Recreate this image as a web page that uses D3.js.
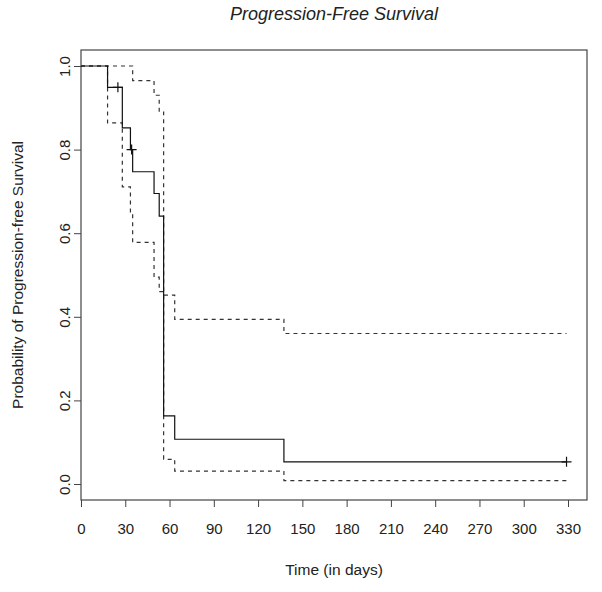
<!DOCTYPE html>
<html><head><meta charset="utf-8">
<script src="https://cdn.jsdelivr.net/npm/d3@7"></script>
<style>
body{margin:0;background:#fff;}
text{font-family:"Liberation Sans",Arial,Helvetica,sans-serif;fill:#222;}
</style></head>
<body><svg id="c" width="602" height="592"></svg>
<script>
// Kaplan-Meier estimate (step points)
const times    = [0, 18, 28, 33.5, 35, 49.5, 53, 56, 63.5, 137.5, 329];
const survival = [1, 0.949, 0.852, 0.80, 0.747, 0.695, 0.641, 0.163, 0.107, 0.053, 0.053];
const upperCI  = [1, 1, 1, 1, 0.965, 0.93, 0.89, 0.452, 0.394, 0.36, 0.36];
const lowerCI  = [1, 0.864, 0.711, 0.648, 0.578, 0.495, 0.46, 0.059, 0.031, 0.008, 0.008];
const censorTimes  = [25, 34.3, 329];
const censorValues = [0.949, 0.80, 0.053];
const xTicks = [0, 30, 60, 90, 120, 150, 180, 210, 240, 270, 300, 330];
const yTicks = [0, 0.2, 0.4, 0.6, 0.8, 1.0];

const svg = d3.select("#c");
const box = {left: 81, right: 587, top: 50, bottom: 500};
const x = d3.scaleLinear().domain([0, 330]).range([81, 568]);
const y = d3.scaleLinear().domain([0, 1]).range([484, 66]);

// box
svg.append("rect").attr("x", box.left).attr("y", box.top)
  .attr("width", box.right - box.left).attr("height", box.bottom - box.top)
  .attr("fill", "none").attr("stroke", "#444").attr("stroke-width", 1.2);

// x axis
const gx = svg.append("g").attr("transform", `translate(0,${box.bottom})`)
  .call(d3.axisBottom(x).tickValues(xTicks).tickSize(7).tickPadding(16).tickFormat(d3.format("d")));
gx.select(".domain").remove();
gx.selectAll("line").attr("stroke", "#444");
gx.selectAll("text").attr("font-size", 15).style("fill", "#222");

// y axis
const gy = svg.append("g").attr("transform", `translate(${box.left},0)`)
  .call(d3.axisLeft(y).tickValues(yTicks).tickSize(7).tickFormat(d3.format(".1f")));
gy.select(".domain").remove();
gy.selectAll("line").attr("stroke", "#444");
gy.selectAll("text").remove();
gy.selectAll(".tick").append("text")
  .attr("transform", "translate(-11,0) rotate(-90)")
  .attr("text-anchor", "middle").attr("dy", "0")
  .attr("font-size", 15).style("fill", "#222")
  .text(d => d3.format(".1f")(d));

// lines
const line = d3.line().curve(d3.curveStepAfter).x(d => x(d[0])).y(d => y(d[1]));
const mk = arr => times.map((t, i) => [t, arr[i]]);
svg.append("path").datum(mk(upperCI)).attr("d", line)
  .attr("fill", "none").attr("stroke", "#333").attr("stroke-width", 1.2).attr("stroke-dasharray", "4,4");
svg.append("path").datum(mk(lowerCI)).attr("d", line)
  .attr("fill", "none").attr("stroke", "#333").attr("stroke-width", 1.2).attr("stroke-dasharray", "4,4");
svg.append("path").datum(mk(survival)).attr("d", line)
  .attr("fill", "none").attr("stroke", "#111").attr("stroke-width", 1.2);

// censor marks
svg.selectAll(".cens").data(censorTimes.map((t, i) => [t, censorValues[i]])).enter()
  .append("path").attr("class", "cens")
  .attr("d", d => `M${x(d[0]) - 5},${y(d[1])}h10M${x(d[0])},${y(d[1]) - 5}v10`)
  .attr("stroke", "#111").attr("stroke-width", 1.2);

// titles
svg.append("text").attr("x", (box.left + box.right) / 2).attr("y", 20)
  .attr("text-anchor", "middle").attr("font-size", 18).attr("font-style", "italic")
  .text("Progression-Free Survival");
svg.append("text").attr("x", (box.left + box.right) / 2).attr("y", 575)
  .attr("text-anchor", "middle").attr("font-size", 15.5)
  .text("Time (in days)");
svg.append("text").attr("transform", `translate(23,${(box.top + box.bottom) / 2}) rotate(-90)`)
  .attr("text-anchor", "middle").attr("font-size", 15.5)
  .text("Probability of Progression-free Survival");
</script></body></html>
